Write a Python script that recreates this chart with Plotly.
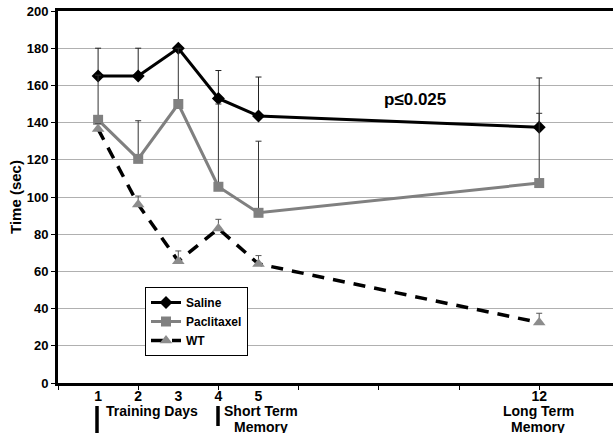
import plotly.graph_objects as go

days = [1, 2, 3, 4, 5, 12]
saline = [165, 165, 180, 153, 143.5, 137.5]
saline_err = [15, 15, 0, 15, 21, 26.5]
paclitaxel = [141.5, 120.5, 150, 105.5, 91.5, 107.5]
paclitaxel_err = [24, 20.5, 30, 44.5, 38.5, 37.5]
wt = [136.5, 96, 65.5, 83, 64, 32.5]
wt_err = [3, 4.5, 5.5, 5, 4.5, 5]

tick_vals = [1, 2, 3, 4, 5, 12]
tick_text = ["1", "2", "3", "4", "5", "12"]
y_ticks = list(range(0, 201, 20))

FONT = "Liberation Sans, Arial, sans-serif"

fig = go.Figure()
fig.add_trace(go.Scatter(
    x=days, y=saline, name="Saline", mode="lines+markers",
    line=dict(color="black", width=3),
    marker=dict(symbol="diamond", size=10, color="black"),
    error_y=dict(type="data", array=saline_err, arrayminus=[0]*6, symmetric=False,
                 color="#222222", thickness=1, width=3),
))
fig.add_trace(go.Scatter(
    x=days, y=paclitaxel, name="Paclitaxel", mode="lines+markers",
    line=dict(color="#808080", width=3),
    marker=dict(symbol="square", size=10, color="#808080"),
    error_y=dict(type="data", array=paclitaxel_err, arrayminus=[0]*6, symmetric=False,
                 color="#333333", thickness=1, width=3),
))
fig.add_trace(go.Scatter(
    x=days, y=wt, name="WT", mode="lines+markers",
    line=dict(color="black", width=3.5, dash="12px,9px"),
    marker=dict(symbol="triangle-up", size=11, color="#8c8c8c"),
    error_y=dict(type="data", array=wt_err, arrayminus=[0]*6, symmetric=False,
                 color="#555555", thickness=1, width=3),
))


def px_x(p):
    return (p - 58) / 555


def px_y(p):
    return 1 - (p - 11) / 372


fig.update_layout(
    width=613, height=433,
    margin=dict(l=58, r=0, t=11, b=50),
    paper_bgcolor="white", plot_bgcolor="white",
    font=dict(family=FONT, color="black", size=13, weight="bold"),
    showlegend=True,
    legend=dict(x=px_x(145), y=px_y(287), xref="paper", yref="paper",
                xanchor="left", yanchor="top",
                bgcolor="white", bordercolor="black", borderwidth=1,
                font=dict(size=12, weight="bold", family=FONT),
                tracegroupgap=0, itemwidth=30),
    xaxis=dict(range=[0, 13.84], tickvals=tick_vals, ticktext=tick_text,
               ticks="", showgrid=False, zeroline=False,
               showline=True, linecolor="black", linewidth=3, mirror=True,
               ticklabelstandoff=-2,
               tickfont=dict(size=14, weight="bold", family=FONT),
               minor=dict(tickvals=[0, 2, 4, 6, 8, 10, 12], ticks="outside",
                          ticklen=4, tickcolor="black", showgrid=False)),
    yaxis=dict(range=[0, 200], tickvals=y_ticks, showgrid=True,
               gridcolor="#b0b0b0", gridwidth=1, zeroline=False,
               showline=True, linecolor="black", linewidth=3,
               ticks="outside", ticklen=4, tickcolor="black",
               tickfont=dict(size=13, weight="bold", family=FONT),
               title=dict(text="Time (sec)", font=dict(size=15, weight="bold", family=FONT),
                          standoff=2)),
)

fig.add_annotation(x=px_x(415), y=px_y(99), xref="paper", yref="paper", text="p≤0.025",
                   showarrow=False, xanchor="center", yanchor="middle",
                   font=dict(size=17, weight="bold", family=FONT))
for txt, cx, cy in [("Training Days", 152, 411), ("Short Term", 261, 411), ("Memory", 261, 427),
                    ("Long Term", 538, 411), ("Memory", 538, 427)]:
    fig.add_annotation(x=px_x(cx), y=px_y(cy), xref="paper", yref="paper", text=txt,
                       showarrow=False, font=dict(size=14, weight="bold", family=FONT),
                       xanchor="center", yanchor="middle")

for bx, y0, y1 in [(97, 406, 434), (218, 406, 426)]:
    fig.add_shape(type="line", xref="paper", yref="paper",
                  x0=px_x(bx), x1=px_x(bx), y0=px_y(y0), y1=px_y(y1),
                  line=dict(color="black", width=3.5))

fig.write_html("out.html")
